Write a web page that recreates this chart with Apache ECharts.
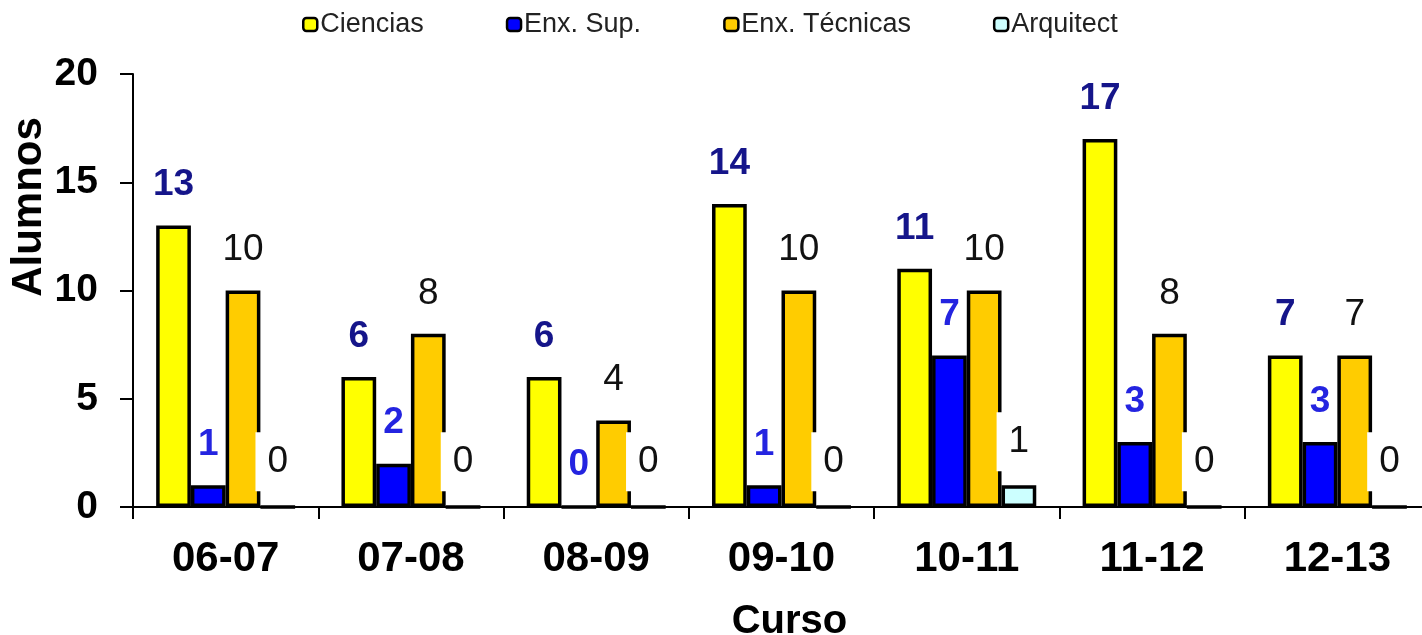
<!DOCTYPE html>
<html>
<head>
<meta charset="utf-8">
<script src="https://cdn.jsdelivr.net/npm/echarts@6/dist/echarts.min.js"></script>
<style>
html,body{margin:0;padding:0;background:#fff;}
#chart{width:1422px;height:635px;}
</style>
</head>
<body>
<div id="chart"></div>
<script>
const categories = ['06-07','07-08','08-09','09-10','10-11','11-12','12-13'];
const ciencias = [13, 6, 6, 14, 11, 17, 7];
const enxSup = [1, 2, 0, 1, 7, 3, 3];
const enxTecnicas = [10, 8, 4, 10, 10, 8, 7];
const arquitect = [0, 0, 0, 0, 1, 0, 0];
const seriesNames = ['Ciencias', 'Enx. Sup.', 'Enx. Técnicas', 'Arquitect'];
const yTicks = [0, 5, 10, 15, 20];

const FONT = '"Liberation Sans", Arial, sans-serif';
const chart = echarts.init(document.getElementById('chart'), null, {renderer: 'canvas'});

function barSeries(name, data, color, labelStyle) {
  return {
    name: name,
    type: 'bar',
    data: data,
    barGap: '0%',
    barCategoryGap: '25%',
    itemStyle: {color: color, borderColor: '#000', borderWidth: 3.5},
    label: Object.assign({
      show: true,
      position: 'top',
      distance: 22,
      fontFamily: FONT,
      fontSize: 37
    }, labelStyle)
  };
}

chart.setOption({
  animation: false,
  backgroundColor: '#fff',
  textStyle: {fontFamily: FONT},
  legend: {
    top: 6,
    left: 297,
    itemGap: 82,
    itemWidth: 14,
    itemHeight: 13,
    itemStyle: {borderWidth: 2.5, borderColor: '#000'},
    textStyle: {fontFamily: FONT, fontSize: 27, color: '#222', padding: [0, 0, 0, -2]},
    data: seriesNames
  },
  grid: {left: 133, top: 74, width: 1297, height: 433, containLabel: false, outerBoundsMode: 'none'},
  xAxis: {
    type: 'category',
    data: categories,
    name: 'Curso',
    nameLocation: 'middle',
    nameGap: 95,
    nameTextStyle: {fontFamily: FONT, fontSize: 40, fontWeight: 'bold', color: '#000', padding: [0, 0, 0, 16]},
    axisLine: {lineStyle: {color: '#000', width: 2}},
    axisTick: {show: true, length: 12, lineStyle: {color: '#000', width: 2}},
    axisLabel: {fontFamily: FONT, fontSize: 42, fontWeight: 'bold', color: '#000', margin: 31}
  },
  yAxis: {
    type: 'value',
    min: yTicks[0],
    max: yTicks[yTicks.length - 1],
    interval: 5,
    axisLine: {show: true, lineStyle: {color: '#000', width: 2}},
    axisTick: {show: true, length: 13, lineStyle: {color: '#000', width: 2}},
    splitLine: {show: false},
    axisLabel: {fontFamily: FONT, fontSize: 39, fontWeight: 'bold', color: '#000', margin: 35}
  },
  graphic: [{
    type: 'text',
    x: 29,
    y: 207,
    rotation: Math.PI / 2,
    style: {
      text: 'Alumnos',
      fontFamily: FONT,
      fontSize: 42,
      fontWeight: 'bold',
      fill: '#000',
      textAlign: 'center',
      textVerticalAlign: 'middle'
    }
  }],
  series: [
    barSeries(seriesNames[0], ciencias, '#FFFF00', {color: '#15158a', fontWeight: 'bold'}),
    barSeries(seriesNames[1], enxSup, '#0000FF', {color: '#2424e0', fontWeight: 'bold'}),
    barSeries(seriesNames[2], enxTecnicas, '#FFCC00', {color: '#111'}),
    barSeries(seriesNames[3], arquitect, '#CCFFFF', {
      color: '#111', distance: 14, backgroundColor: '#fff', padding: [11, 12, 11, 12]
    })
  ]
});
</script>
</body>
</html>
